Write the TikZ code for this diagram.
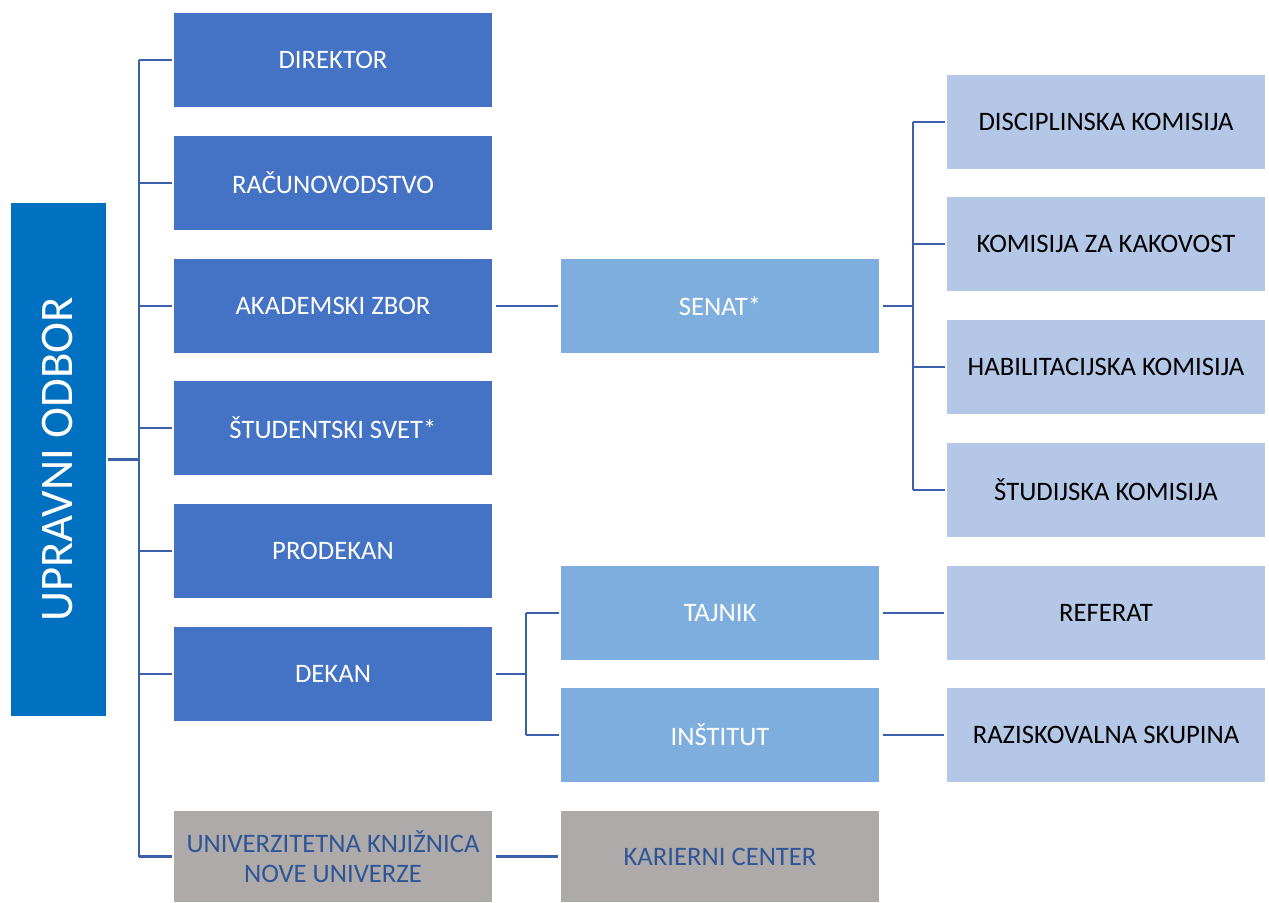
\documentclass[tikz,border=0pt]{standalone}
\usepackage{fontspec}
\setmainfont{Carlito}
\definecolor{rootc}{HTML}{0070C0}
\definecolor{darkc}{HTML}{4472C4}
\definecolor{midc}{HTML}{7DAEDD}
\definecolor{lightc}{HTML}{B4C7E7}
\definecolor{greyc}{HTML}{AEAAAA}
\definecolor{linec}{HTML}{3C5FAA}
\definecolor{greytext}{HTML}{2F5597}
\begin{document}
\begin{tikzpicture}[x=0.75pt,y=-0.75pt,
  box/.style={inner sep=0pt, minimum width=238.5pt, minimum height=70.5pt, align=center,
    font=\fontsize{20}{22.5}\selectfont},
  lvlone/.style={box, fill=darkc, text=white},
  lvltwo/.style={box, fill=midc, text=white},
  lvlthree/.style={box, fill=lightc, text=black},
  greybox/.style={box, fill=greyc, text=greytext, minimum height=68.25pt},
  conn/.style={draw=linec, line width=2.2pt}]
\useasboundingbox (0,0) rectangle (1269,902);
% root
\node[fill=rootc, minimum width=71.25pt, minimum height=384.75pt, inner sep=0pt] (root) at (58,459.5)
  {\rotatebox{90}{\color{white}\fontsize{35}{37}\selectfont UPRAVNI ODBOR}};
% column 1
\node[lvlone] (direktor) at (333,60) {DIREKTOR};
\node[lvlone] (racun) at (333,183) {RAČUNOVODSTVO};
\node[lvlone] (akad) at (333,306) {AKADEMSKI ZBOR};
\node[lvlone] (stud) at (333,428) {ŠTUDENTSKI SVET*};
\node[lvlone] (prodekan) at (333,551) {PRODEKAN};
\node[lvlone] (dekan) at (333,674) {DEKAN};
\node[greybox] (univ) at (333,856.5) {UNIVERZITETNA KNJIŽNICA\\NOVE UNIVERZE};
% column 2
\node[lvltwo] (senat) at (720,306) {SENAT*};
\node[lvltwo] (tajnik) at (720,613) {TAJNIK};
\node[lvltwo] (institut) at (720,735) {INŠTITUT};
\node[greybox] (karier) at (720,856.5) {KARIERNI CENTER};
% column 3
\node[lvlthree] (disc) at (1106,122) {DISCIPLINSKA KOMISIJA};
\node[lvlthree] (kak) at (1106,244) {KOMISIJA ZA KAKOVOST};
\node[lvlthree] (habil) at (1106,367) {HABILITACIJSKA KOMISIJA};
\node[lvlthree] (studk) at (1106,490) {ŠTUDIJSKA KOMISIJA};
\node[lvlthree] (referat) at (1106,613) {REFERAT};
\node[lvlthree] (razisk) at (1106,735) {RAZISKOVALNA SKUPINA};
% buses
\coordinate (busA) at (139,0);
\coordinate (busB) at (913,0);
\coordinate (busC) at (526,0);
\draw[conn] ([xshift=2pt]root.east) -- (busA |- root.east);
\draw[conn] (busA |- direktor) -- (busA |- univ);
\foreach \n in {direktor,racun,akad,stud,prodekan,dekan,univ}
  \draw[conn] (busA |- \n) -- ([xshift=-1.5pt]\n.west);
\draw[conn] ([xshift=3pt]akad.east) -- ([xshift=-2pt]senat.west);
\draw[conn] ([xshift=3pt]senat.east) -- (busB |- senat);
\draw[conn] (busB |- disc) -- (busB |- studk);
\foreach \n in {disc,kak,habil,studk}
  \draw[conn] (busB |- \n) -- ([xshift=-1.5pt]\n.west);
\draw[conn] ([xshift=3pt]dekan.east) -- (busC |- dekan);
\draw[conn] (busC |- tajnik) -- (busC |- institut);
\foreach \n in {tajnik,institut}
  \draw[conn] (busC |- \n) -- ([xshift=-1.5pt]\n.west);
\draw[conn] ([xshift=3pt]tajnik.east) -- ([xshift=-2pt]referat.west);
\draw[conn] ([xshift=3pt]institut.east) -- ([xshift=-2pt]razisk.west);
\draw[conn] ([xshift=3pt]univ.east) -- ([xshift=-2pt]karier.west);
\end{tikzpicture}
\end{document}
